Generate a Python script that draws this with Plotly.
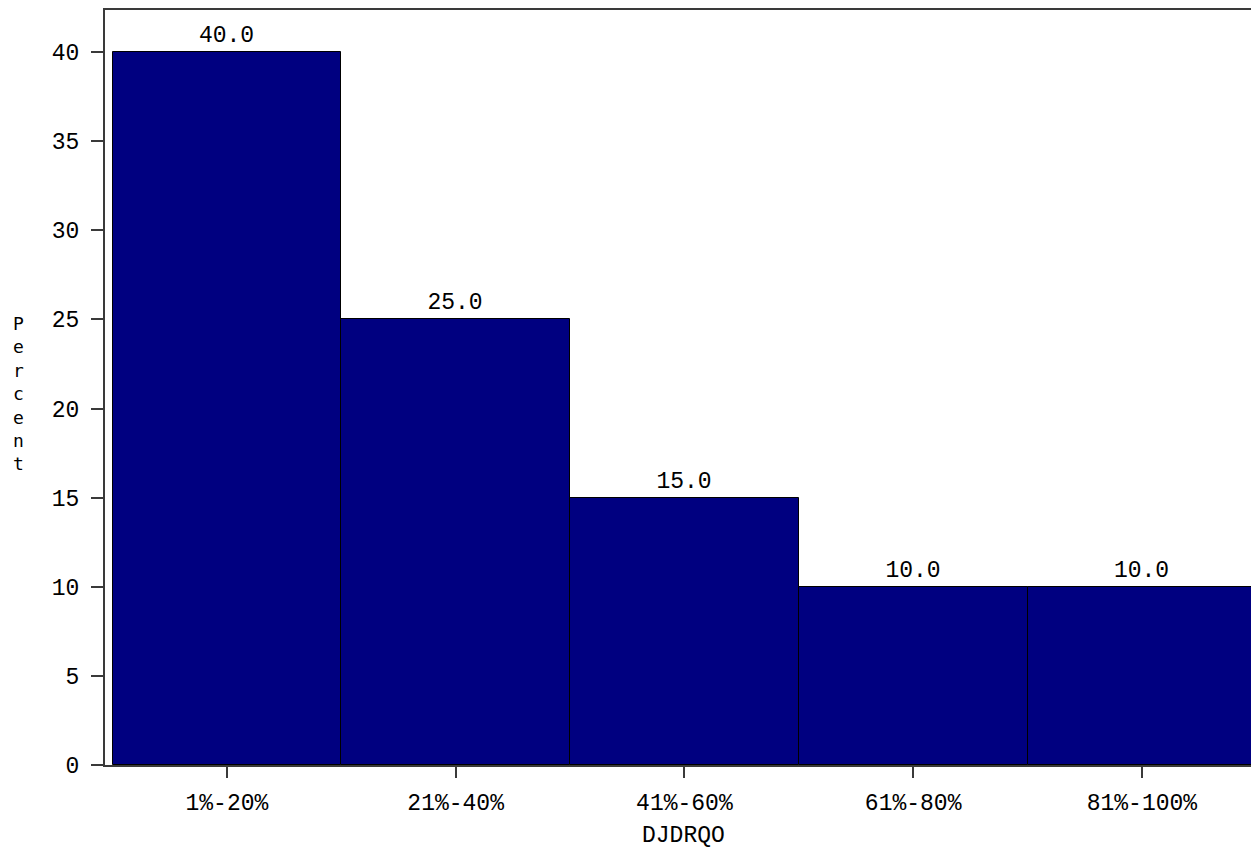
import plotly.graph_objects as go

categories = ["1%-20%", "21%-40%", "41%-60%", "61%-80%", "81%-100%"]
percents = [40.0, 25.0, 15.0, 10.0, 10.0]
y_ticks = [0, 5, 10, 15, 20, 25, 30, 35, 40]

positions = list(range(len(categories)))

TICK_FONT = dict(family="Liberation Mono", size=23, color="black")
AXIS_COLOR = "#3a3a3a"

PLOT_L, PLOT_R, PLOT_T, PLOT_B = 105, 1251, 10, 765
W, H = 1251, 849
plot_w = PLOT_R - PLOT_L
plot_h = PLOT_B - PLOT_T

fig = go.Figure(
    go.Bar(
        x=positions,
        y=percents,
        width=1.0,
        marker=dict(color="#000080", line=dict(color="black", width=1)),
        text=[f"{v:.1f}" for v in percents],
        textposition="outside",
        textfont=TICK_FONT,
        cliponaxis=False,
        hoverinfo="skip",
    )
)

fig.update_layout(
    width=W,
    height=H,
    margin=dict(l=PLOT_L, r=W - PLOT_R, t=PLOT_T, b=H - PLOT_B, pad=0),
    paper_bgcolor="white",
    plot_bgcolor="white",
    showlegend=False,
    bargap=0,
    xaxis=dict(
        range=[-0.533, 4.477],
        tickvals=positions,
        ticktext=categories,
        ticks="outside",
        ticklen=11,
        tickwidth=2,
        tickcolor=AXIS_COLOR,
        tickfont=TICK_FONT,
        ticklabelstandoff=4,
        showline=True,
        linecolor=AXIS_COLOR,
        linewidth=2,
        mirror=True,
        showgrid=False,
        zeroline=False,
        fixedrange=True,
    ),
    yaxis=dict(
        range=[0, 42.36],
        tickvals=y_ticks,
        ticktext=[str(t) for t in y_ticks],
        ticks="outside",
        ticklen=12,
        tickwidth=2,
        tickcolor=AXIS_COLOR,
        tickfont=TICK_FONT,
        ticklabelstandoff=7,
        showline=True,
        linecolor=AXIS_COLOR,
        linewidth=2,
        showgrid=False,
        zeroline=False,
        fixedrange=True,
    ),
    annotations=[
        dict(
            text="DJDRQO",
            xref="paper", yref="paper",
            x=(684 - PLOT_L) / plot_w, y=(PLOT_B - 836) / plot_h,
            xanchor="center", yanchor="middle",
            showarrow=False,
            font=TICK_FONT,
        ),
        dict(
            text="<br>".join(list("Percent")),
            xref="paper", yref="paper",
            x=(18 - PLOT_L) / plot_w, y=(PLOT_B - 393) / plot_h,
            xanchor="center", yanchor="middle",
            showarrow=False,
            font=dict(family="DejaVu Sans Mono", size=18, color="black"),
        ),
    ],
)

fig.write_html(
    "out.html",
    config={"displayModeBar": False},
    post_script="document.body.style.margin='0';document.body.style.overflow='hidden';",
)
